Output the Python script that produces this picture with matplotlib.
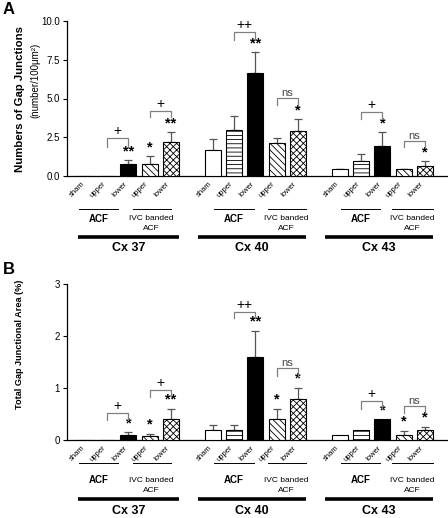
import numpy as np
import matplotlib
matplotlib.use("Agg")
import matplotlib.pyplot as plt
from matplotlib.transforms import blended_transform_factory

plt.rcParams['font.family'] = ['Liberation Sans', 'DejaVu Sans']
plt.rcParams['hatch.linewidth'] = 0.6

# ---------------- data ----------------
groups = ["Cx 37", "Cx 40", "Cx 43"]
bar_labels = ["sham", "upper", "lower", "upper", "lower"]

# panel A: numbers of gap junctions (number/100 um^2)
a_means = [0, 0, 0.75, 0.75, 2.2,
           1.65, 3.0, 6.65, 2.1, 2.9,
           0.43, 0.97, 1.95, 0.43, 0.65]
a_err = [0, 0, 0.3, 0.55, 0.65,
         0.75, 0.9, 1.35, 0.37, 0.8,
         0.04, 0.43, 0.88, 0.04, 0.34]
a_stars = ["", "", "**", "*", "**",
           "", "", "**", "", "*",
           "", "", "*", "", "*"]
# bracket: bar i, bar j, top, leg bottom, label
a_brackets = [(1, 2, 2.45, 1.9, "+"), (3, 4, 4.2, 3.8, "+"),
              (6, 7, 9.27, 8.77, "++"), (8, 9, 5.05, 4.58, "ns"),
              (11, 12, 4.15, 3.65, "+"), (13, 14, 2.28, 1.85, "ns")]

# panel B: total gap junctional area (%)
b_means = [0, 0, 0.1, 0.08, 0.4,
           0.2, 0.2, 1.6, 0.4, 0.8,
           0.1, 0.2, 0.4, 0.1, 0.2]
b_err = [0, 0, 0.05, 0.05, 0.2,
         0.1, 0.1, 0.5, 0.2, 0.2,
         0, 0, 0, 0.08, 0.05]
b_stars = ["", "", "*", "*", "**",
           "", "", "**", "*", "*",
           "", "", "*", "*", "*"]
b_brackets = [(1, 2, 0.52, 0.39, "+"), (3, 4, 0.97, 0.84, "+"),
              (6, 7, 2.47, 2.35, "++"), (8, 9, 1.38, 1.24, "ns"),
              (11, 12, 0.76, 0.61, "+"), (13, 14, 0.65, 0.52, "ns")]

# ---------------- layout ----------------
W, H = 448, 518
x = np.array([g * 6 + k for g in range(3) for k in range(5)], dtype=float)
styles = [dict(color="white", hatch=None),
          dict(color="white", hatch="----"),
          dict(color="black", hatch=None),
          dict(color="white", hatch="\\\\\\\\\\"),
          dict(color="white", hatch="xxxxx")]

# under-axis line extents (data x)
acf_lines = [(-0.35, 1.5), (6.04, 7.92), (12.03, 13.87)]
ivc_lines = [(2.2, 4.0), (8.58, 10.38), (14.43, 16.37)]
thick_lines = [(-0.38, 4.4), (5.28, 10.38), (11.27, 16.37)]

fig = plt.figure(figsize=(W / 100, H / 100), dpi=100)


def px_axes(left, top, right, bottom):
    return fig.add_axes([left / W, 1 - bottom / H, (right - left) / W, (bottom - top) / H])


def draw_panel(ax, means, err, stars, brackets, ylim, yticks, ytl,
               star_pad, ax_h, offs):
    for i in range(len(x)):
        st = styles[i % 5]
        ax.bar(x[i], means[i], width=0.75, color=st["color"], hatch=st["hatch"],
               edgecolor="black", linewidth=0.8, zorder=3)
        if err[i] > 0:
            ax.errorbar(x[i], means[i], yerr=[[0], [err[i]]], fmt="none",
                        ecolor="#555555", elinewidth=0.9, capsize=3,
                        capthick=0.9, zorder=2)
        if stars[i]:
            ax.text(x[i], means[i] + err[i] + star_pad, stars[i], ha="center",
                    va="center", fontsize=10.5, fontweight="bold")
    for i, j, top, bot, lab in brackets:
        ax.plot([x[i], x[i], x[j], x[j]], [bot, top, top, bot],
                color="#808080", lw=0.9, zorder=4)
        if lab == "ns":
            ax.text((x[i] + x[j]) / 2, top, lab, ha="center", va="bottom",
                    fontsize=8, color="#444444")
        else:
            ax.text((x[i] + x[j]) / 2, top, lab, ha="center", va="bottom",
                    fontsize=10, color="black")

    ax.set_xlim(-0.9, 17.05)
    ax.set_ylim(*ylim)
    ax.set_yticks(yticks, ytl, fontsize=7)
    ax.set_xticks(x, bar_labels * 3, rotation=45, ha="right", va="top",
                  fontsize=5.5)
    ax.tick_params(axis="x", length=0, pad=3)
    ax.tick_params(axis="y", length=3, width=0.8, pad=2)
    for s in ["top", "right"]:
        ax.spines[s].set_visible(False)
    ax.spines["left"].set_linewidth(0.9)
    ax.spines["bottom"].set_linewidth(0.9)

    tr = blended_transform_factory(ax.transData, ax.transAxes)
    thin_y, acf_y, ivc2_y, thick_y, cx_y = [-o / ax_h for o in offs]
    for g in range(3):
        ax.plot(acf_lines[g], [thin_y] * 2, color="black", lw=0.7,
                transform=tr, clip_on=False)
        ax.plot(ivc_lines[g], [thin_y] * 2, color="black", lw=0.7,
                transform=tr, clip_on=False)
        ax.plot(thick_lines[g], [thick_y] * 2, color="black", lw=2.6,
                transform=tr, clip_on=False, solid_capstyle="butt")
        ax.text(np.mean(acf_lines[g]), acf_y, "ACF", transform=tr, ha="center",
                va="center", fontsize=7, fontweight="bold")
        ax.text(np.mean(ivc_lines[g]), acf_y, "IVC banded", transform=tr,
                ha="center", va="center", fontsize=6)
        ax.text(np.mean(ivc_lines[g]), ivc2_y, "ACF", transform=tr,
                ha="center", va="center", fontsize=6)
        ax.text(np.mean(thick_lines[g]), cx_y, groups[g], transform=tr,
                ha="center", va="center", fontsize=9, fontweight="bold")


# panel A
axA = px_axes(67, 21, 447, 176)
draw_panel(axA, a_means, a_err, a_stars, a_brackets, (0, 10),
           [0, 2.5, 5, 7.5, 10], ["0.0", "2.5", "5.0", "7.5", "10.0"],
           0.55, 155, [33, 42.7, 52.7, 61, 71.7])

# panel B
axB = px_axes(67, 284, 447, 440.3)
draw_panel(axB, b_means, b_err, b_stars, b_brackets, (0, 3),
           [0, 1, 2, 3], ["0", "1", "2", "3"],
           0.18, 156.3, [22.4, 39.7, 49.7, 59, 70.4])

fig.text(20 / W, 1 - 98.5 / H, "Numbers of Gap Junctions", rotation=90,
         ha="center", va="center", fontsize=8.2, fontweight="bold")
fig.text(35 / W, 1 - 80 / H, "(number/100μm²)", rotation=90,
         ha="center", va="center", fontsize=7)
fig.text(19 / W, 1 - 344 / H, "Total Gap Junctional Area (%)", rotation=90,
         ha="center", va="center", fontsize=6.6, fontweight="bold")

fig.text(9 / W, 1 - 9 / H, "A", ha="center", va="center", fontsize=12,
         fontweight="bold")
fig.text(9 / W, 1 - 270 / H, "B", ha="center", va="center", fontsize=12,
         fontweight="bold")

fig.savefig("out.png", dpi=100)
